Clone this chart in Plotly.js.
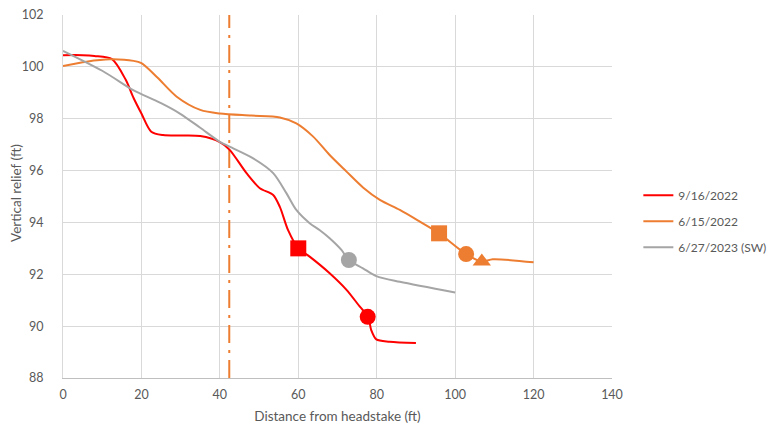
<!DOCTYPE html>
<html>
<head>
<meta charset="utf-8">
<script src="https://cdn.plot.ly/plotly-3.0.1.min.js"></script>
<style>html,body{margin:0;padding:0;background:#fff;}#chart{width:770px;height:430px;}</style>
</head>
<body>
<div id="chart"></div>
<script>
// Series: 9/16/2022
const redX = [0, 5, 8, 12.5, 16, 18, 20, 22.5, 25.5, 30, 35, 40, 42.5, 46.8, 50.2, 53.6, 55.3, 57.4, 60, 62.9, 68, 72.3, 75.7, 77.8, 78.6, 79.9, 83.3, 90];
const redY = [100.45, 100.45, 100.42, 100.3, 99.5, 98.8, 98.2, 97.5, 97.37, 97.35, 97.33, 97.1, 96.8, 95.9, 95.32, 95.06, 94.6, 93.7, 93.0, 92.68, 92.04, 91.4, 90.75, 90.36, 89.85, 89.49, 89.4, 89.35];
// Series: 6/15/2022
const orangeX = [0, 6, 12, 18, 20, 24, 29, 35, 40, 48, 55.3, 59.5, 63.8, 68, 72.3, 76.5, 80.8, 85.9, 91, 95.9, 102.8, 106.8, 109.6, 120];
const orangeY = [100.03, 100.2, 100.29, 100.23, 100.14, 99.6, 98.85, 98.34, 98.2, 98.12, 98.05, 97.82, 97.31, 96.6, 95.96, 95.35, 94.87, 94.48, 94.03, 93.58, 92.78, 92.49, 92.58, 92.46];
// Series: 6/27/2023 (SW)
const grayX = [0, 10, 17.9, 20, 25, 29.8, 35, 40, 42.5, 48.5, 53.6, 57, 59.5, 62.9, 65.5, 68, 71, 72.9, 76.5, 79.9, 85.9, 100];
const grayY = [100.62, 99.85, 99.1, 98.95, 98.6, 98.2, 97.65, 97.11, 96.92, 96.47, 95.9, 95.12, 94.48, 93.97, 93.7, 93.39, 92.94, 92.55, 92.23, 91.93, 91.71, 91.3];
// Highlighted points
const redSquare = {x: [60], y: [93.0]};
const redCircle = {x: [77.7], y: [90.36]};
const grayCircle = {x: [72.9], y: [92.55]};
const orangeSquare = {x: [95.9], y: [93.58]};
const orangeCircle = {x: [102.8], y: [92.78]};
const orangeTriangle = {x: [106.8], y: [92.49]};
// Reference line
const refX = [42.4, 42.4];
const refY = [88, 102];
// Axis titles
const xTitle = 'Distance from headstake (ft)';
const yTitle = 'Vertical relief (ft)';

const RED = '#FF0000', ORANGE = '#ED7D31', GRAY = '#A5A5A5';
const FONT = 'Lato, "Open Sans", sans-serif';

function markerTrace(pt, color, symbol) {
  return {x: pt.x, y: pt.y, type: 'scatter', mode: 'markers', showlegend: false,
    marker: {color: color, symbol: symbol, size: 16, line: {width: 0}}, hoverinfo: 'skip'};
}

const data = [
  {x: refX, y: refY, type: 'scatter', mode: 'lines', showlegend: false,
   line: {color: ORANGE, width: 2, dash: '18px,7px,3px,7px'}},
  {x: redX, y: redY, type: 'scatter', mode: 'lines', name: '9/16/2022', legendgroup: 'a',
   line: {color: RED, width: 2, shape: 'spline', smoothing: 0.8}},
  {x: orangeX, y: orangeY, type: 'scatter', mode: 'lines', name: '6/15/2022', legendgroup: 'b',
   line: {color: ORANGE, width: 2, shape: 'spline', smoothing: 0.8}},
  {x: grayX, y: grayY, type: 'scatter', mode: 'lines', name: '6/27/2023 (SW)', legendgroup: 'c',
   line: {color: GRAY, width: 2, shape: 'spline', smoothing: 0.8}},
  markerTrace(redSquare, RED, 'square'),
  markerTrace(redCircle, RED, 'circle'),
  markerTrace(grayCircle, GRAY, 'circle'),
  markerTrace(orangeSquare, ORANGE, 'square'),
  markerTrace(orangeCircle, ORANGE, 'circle'),
  markerTrace(orangeTriangle, ORANGE, 'triangle-up')
];

const layout = {
  width: 770, height: 430,
  margin: {l: 63, r: 157.5, t: 15, b: 52, pad: 0, autoexpand: false},
  paper_bgcolor: '#ffffff', plot_bgcolor: '#ffffff',
  font: {family: FONT, size: 12.5, color: '#595959'},
  xaxis: {
    range: [0, 140], dtick: 20, tick0: 0,
    showgrid: true, gridcolor: '#D9D9D9', gridwidth: 1,
    zeroline: false, showline: true, linecolor: '#BFBFBF', linewidth: 1, mirror: false,
    ticks: 'outside', ticklen: 5, tickcolor: 'rgba(0,0,0,0)',
    tickfont: {family: FONT, size: 12.5, color: '#595959'},
    title: {text: xTitle, font: {family: FONT, size: 13.5, color: '#595959'}, standoff: 10}
  },
  yaxis: {
    range: [88, 102], dtick: 2, tick0: 88,
    showgrid: true, gridcolor: '#D9D9D9', gridwidth: 1,
    zeroline: false, showline: true, linecolor: '#D9D9D9', linewidth: 1,
    ticks: '', ticklabelstandoff: 16,
    tickfont: {family: FONT, size: 12.5, color: '#595959'}
  },
  annotations: [{
    text: yTitle, xref: 'paper', yref: 'paper', x: -0.0855, y: 0.51,
    xanchor: 'center', yanchor: 'middle', textangle: -90, showarrow: false,
    font: {family: FONT, size: 13.5, color: '#595959'}
  }],
  legend: {
    x: 1.048, xanchor: 'left', y: 0.432, yanchor: 'middle',
    font: {family: FONT, size: 12, color: '#595959'},
    bgcolor: 'rgba(0,0,0,0)', borderwidth: 0, tracegroupgap: 7
  },
  showlegend: true
};

Plotly.newPlot('chart', data, layout, {displayModeBar: false, staticPlot: true});
</script>
</body>
</html>
